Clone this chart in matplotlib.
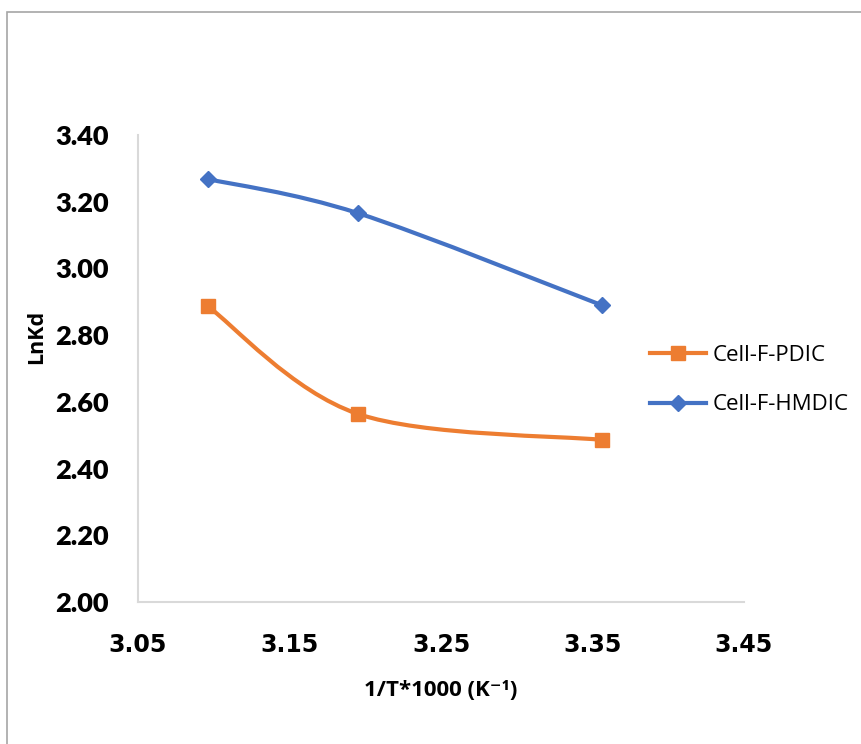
import matplotlib
matplotlib.use("Agg")
import matplotlib.pyplot as plt
from matplotlib.path import Path
from matplotlib.patches import PathPatch, Rectangle
from matplotlib.lines import Line2D
import numpy as np

# data
inv_t = [3.096, 3.195, 3.356]          # 1/T*1000 (K^-1)
lnkd_pdic = [2.887, 2.564, 2.486]      # Cell-F-PDIC
lnkd_hmdic = [3.268, 3.166, 2.890]     # Cell-F-HMDIC

x_ticks = [3.05, 3.15, 3.25, 3.35, 3.45]
y_ticks = [2.00, 2.20, 2.40, 2.60, 2.80, 3.00, 3.20, 3.40]

ORANGE = "#ED7D31"
BLUE = "#4472C4"


def smooth_path(xs, ys):
    # Excel-like smoothed line: cubic bezier through the points (Catmull-Rom control points)
    pts = np.column_stack([xs, ys])
    n = len(pts)
    verts = [pts[0]]
    codes = [Path.MOVETO]
    for i in range(n - 1):
        p_prev = pts[i - 1] if i > 0 else pts[i]
        p_next = pts[i + 2] if i + 2 < n else pts[i + 1]
        c1 = pts[i] + (pts[i + 1] - p_prev) / 6.0
        c2 = pts[i + 1] - (p_next - pts[i]) / 6.0
        verts += [c1, c2, pts[i + 1]]
        codes += [Path.CURVE4] * 3
    return Path(verts, codes)


fig = plt.figure(figsize=(8.62, 7.44), dpi=100)
ax = fig.add_axes([138 / 862, 142 / 744, 606 / 862, 467 / 744])

# outer chart border (Excel chart area)
fig.patches.append(Rectangle((7 / 862, -0.1), 1.2, 1.1 - 12 / 744, transform=fig.transFigure,
                             fill=False, edgecolor="#A6A6A6", linewidth=1.2))

for ys, col, mk, ms in [(lnkd_pdic, ORANGE, "s", 10), (lnkd_hmdic, BLUE, "D", 8.5)]:
    ax.add_patch(PathPatch(smooth_path(inv_t, ys), fill=False, edgecolor=col,
                           linewidth=3, capstyle="round", joinstyle="round"))
    ax.plot(inv_t, ys, linestyle="none", marker=mk, markersize=ms, color=col)

ax.set_xlim(3.05, 3.45)
ax.set_ylim(2.00, 3.40)
ax.set_xticks(x_ticks)
ax.set_yticks(y_ticks)
ax.set_xticklabels([f"{v:.2f}" for v in x_ticks], fontfamily="DejaVu Sans",
                   fontweight="bold", fontsize=17)
ax.set_yticklabels([f"{v:.2f}" for v in y_ticks], fontfamily="Lato",
                   fontweight="heavy", fontsize=19.5)
ax.tick_params(axis="both", length=0)
ax.tick_params(axis="y", pad=21)
ax.tick_params(axis="x", pad=22)

for side in ["top", "right"]:
    ax.spines[side].set_visible(False)
for side in ["left", "bottom"]:
    ax.spines[side].set_color("#D9D9D9")
    ax.spines[side].set_linewidth(1.5)

ax.set_ylabel("LnKd", fontfamily="Open Sans", fontweight="bold", fontsize=15.5)
ax.yaxis.set_label_coords(-0.150, 0.567)
ax.set_xlabel("1/T*1000 (K\u207b\u00b9)", family=["Open Sans", "DejaVu Sans"],
              fontweight="bold", fontsize=16)
ax.xaxis.set_label_coords(0.50, -0.166)

handles = [
    Line2D([], [], color=ORANGE, linewidth=3, marker="s", markersize=10),
    Line2D([], [], color=BLUE, linewidth=3, marker="D", markersize=8.5),
]
fig.legend(handles, ["Cell-F-PDIC", "Cell-F-HMDIC"], loc="center left",
           bbox_to_anchor=(630 / 862, 1 - 380 / 744), frameon=False,
           prop={"family": "Open Sans", "size": 16}, handlelength=2.5,
           handletextpad=0.3, labelspacing=1.3)

fig.savefig("out.png", dpi=100)
